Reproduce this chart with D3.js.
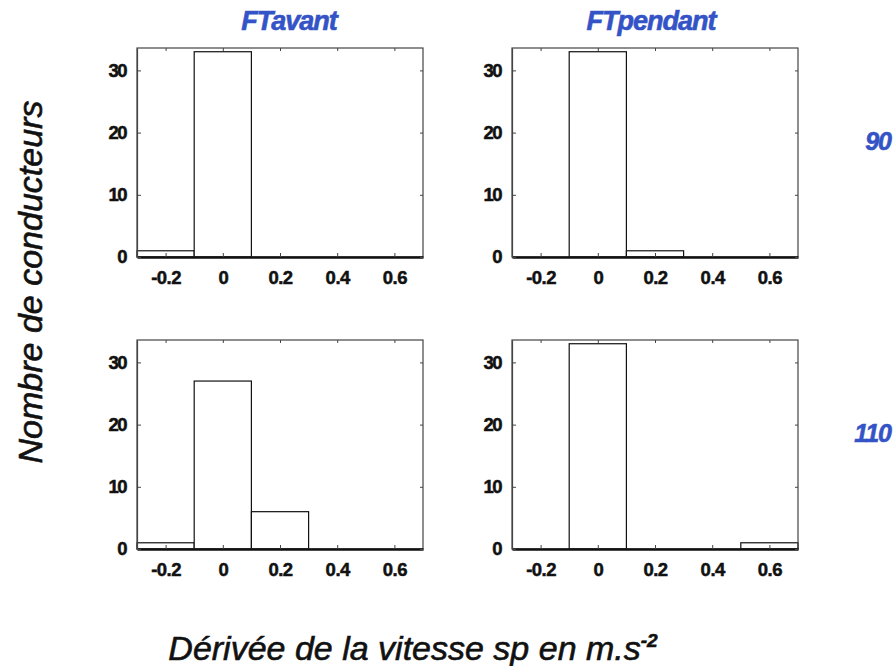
<!DOCTYPE html>
<html>
<head>
<meta charset="utf-8">
<script src="https://cdn.jsdelivr.net/npm/d3@7/dist/d3.min.js"></script>
<style>
  html, body { margin: 0; padding: 0; background: #fff; }
  svg { display: block; }
  text { font-family: "Liberation Sans", Arial, Helvetica, sans-serif; }
</style>
</head>
<body>
<svg id="chart" width="895" height="666"></svg>
<script>
// Histogram bins (centres, width 0.2) of the speed derivative
const binCenters = [-0.2, 0, 0.2, 0.4, 0.6];
const binWidth = 0.2;

// Driver counts per bin
const avant90    = [1, 33, 0, 0, 0];
const pendant90  = [0, 33, 1, 0, 0];
const avant110   = [1, 27, 6, 0, 0];
const pendant110 = [0, 33, 0, 0, 1];

const columnTitles = ["FTavant", "FTpendant"];
const rowLabels = ["90", "110"];
const xTicks = [-0.2, 0, 0.2, 0.4, 0.6];
const yTicks = [0, 10, 20, 30];

const panels = [
  { row: 0, col: 0, counts: avant90 },
  { row: 0, col: 1, counts: pendant90 },
  { row: 1, col: 0, counts: avant110 },
  { row: 1, col: 1, counts: pendant110 }
];

const svg = d3.select("#chart");
const blue = "#3453c6";

const colX = [137, 512];
const rowY = [48, 340];
const pw = 286, ph = 209;

const x = d3.scaleLinear().domain([-0.3, 0.7]).range([0, pw]);
const y = d3.scaleLinear().domain([0, 33.6]).range([ph, 0]);

panels.forEach(p => {
  const g = svg.append("g")
    .attr("transform", `translate(${colX[p.col]},${rowY[p.row]})`);

  // bars
  g.selectAll("rect.bar")
    .data(binCenters.map((c, i) => ({ c, v: p.counts[i] })).filter(d => d.v > 0))
    .join("rect")
    .attr("class", "bar")
    .attr("x", d => x(d.c - binWidth / 2))
    .attr("y", d => y(d.v))
    .attr("width", d => x(d.c + binWidth / 2) - x(d.c - binWidth / 2))
    .attr("height", d => y(0) - y(d.v))
    .attr("fill", "#fff")
    .attr("stroke", "#111")
    .attr("stroke-width", 1.2);

  // axes box
  g.append("rect")
    .attr("x", 0).attr("y", 0).attr("width", pw).attr("height", ph)
    .attr("fill", "none").attr("stroke", "#444").attr("stroke-width", 1.2);

  // bottom axis with inward ticks
  const xAxis = d3.axisBottom(x).tickValues(xTicks).tickSizeInner(-4).tickSizeOuter(0)
    .tickPadding(14).tickFormat(d => d === 0 ? "0" : d3.format(".1f")(d).replace("−", "-"));
  const gx = g.append("g").attr("transform", `translate(0,${ph})`).call(xAxis);
  gx.select(".domain").attr("stroke", "#111").attr("stroke-width", 2.4);
  gx.selectAll(".tick line").attr("stroke", "#444");
  gx.selectAll(".tick text")
    .attr("font-size", 18.5).attr("font-weight", "bold").attr("fill", "#111")
    .attr("stroke", "#111").attr("stroke-width", 0.5)
    .attr("letter-spacing", "-0.5px")
    .style("font-family", '"Liberation Sans", Arial, sans-serif');

  // top ticks
  g.append("g").call(d3.axisTop(x).tickValues(xTicks).tickSizeInner(-3).tickSizeOuter(0).tickFormat(""))
    .call(s => s.select(".domain").remove())
    .selectAll(".tick line").attr("stroke", "#444");

  // left axis
  const yAxis = d3.axisLeft(y).tickValues(yTicks).tickSizeInner(-4).tickSizeOuter(0).tickPadding(11);
  const gy = g.append("g").call(yAxis);
  gy.select(".domain").attr("stroke", "#444").attr("stroke-width", 1.2);
  gy.selectAll(".tick line").attr("stroke", "#444");
  gy.selectAll(".tick text")
    .attr("font-size", 18.5).attr("font-weight", "bold").attr("fill", "#111")
    .attr("stroke", "#111").attr("stroke-width", 0.5)
    .attr("letter-spacing", "-1.5px")
    .style("font-family", '"Liberation Sans", Arial, sans-serif');

  // right ticks
  g.append("g").attr("transform", `translate(${pw},0)`)
    .call(d3.axisRight(y).tickValues(yTicks).tickSizeInner(-3).tickSizeOuter(0).tickFormat(""))
    .call(s => s.select(".domain").remove())
    .selectAll(".tick line").attr("stroke", "#444");
});

// column titles
columnTitles.forEach((t, i) => {
  svg.append("text")
    .attr("x", colX[i] + pw / 2 + (i === 0 ? 9 : -4))
    .attr("y", 30)
    .attr("text-anchor", "middle")
    .attr("font-size", 27).attr("font-weight", "bold").attr("font-style", "italic")
    .attr("letter-spacing", "-1px")
    .attr("fill", blue).attr("stroke", blue).attr("stroke-width", 0.6)
    .text(t);
});

// row labels
rowLabels.forEach((t, i) => {
  svg.append("text")
    .attr("x", 891)
    .attr("y", rowY[i] + 102)
    .attr("text-anchor", "end")
    .attr("font-size", 25).attr("font-weight", "bold").attr("font-style", "italic")
    .attr("letter-spacing", "-1px")
    .attr("fill", blue).attr("stroke", blue).attr("stroke-width", 0.6)
    .text(t);
});

// y axis title
svg.append("text")
  .attr("transform", "translate(42,282) rotate(-90)")
  .attr("text-anchor", "middle")
  .attr("font-size", 34).attr("font-style", "italic").attr("fill", "#111")
  .attr("stroke", "#111").attr("stroke-width", 0.6)
  .text("Nombre de conducteurs");

// x axis title
const xt = svg.append("text")
  .attr("x", 413).attr("y", 660)
  .attr("text-anchor", "middle")
  .attr("font-size", 34).attr("font-style", "italic").attr("fill", "#111")
  .attr("stroke", "#111").attr("stroke-width", 0.6);
xt.append("tspan").text("Dérivée de la vitesse sp en m.s");
xt.append("tspan").attr("dy", -13).attr("font-size", 19).attr("font-weight", "bold").text("-2");
</script>
</body>
</html>
